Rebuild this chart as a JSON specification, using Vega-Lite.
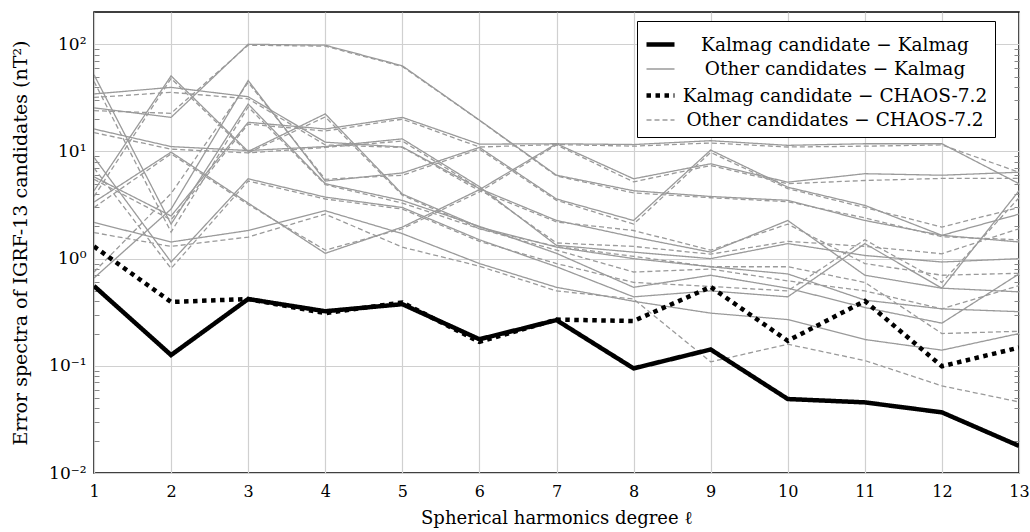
{
"$schema": "https://vega.github.io/schema/vega-lite/v6.json",
"width": 925, "height": 461,
"autosize": {"type": "none"},
"padding": {"left": 94, "top": 12, "right": 11, "bottom": 59},
"background": "white",
"config": {
  "font": "DejaVu Serif",
  "view": {"stroke": "black", "strokeWidth": 1.5},
  "axis": {"gridColor": "#d0d0d0", "gridWidth": 1.2, "domain": false, "labelFont": "DejaVu Serif", "labelFontSize": 16, "labelColor": "black", "titleFont": "DejaVu Serif", "titleFontSize": 18, "titleFontWeight": "normal", "titleColor": "black", "tickColor": "#888"},
  "legend": {"labelFont": "DejaVu Serif", "labelFontSize": 18.5, "labelColor": "black"}
},
"data": {"values": [
{"s":"KK","c":"K","l":1,"v":0.556},{"s":"KK","c":"K","l":2,"v":0.126},{"s":"KK","c":"K","l":3,"v":0.42},{"s":"KK","c":"K","l":4,"v":0.323},{"s":"KK","c":"K","l":5,"v":0.376},{"s":"KK","c":"K","l":6,"v":0.177},{"s":"KK","c":"K","l":7,"v":0.267},{"s":"KK","c":"K","l":8,"v":0.0946},{"s":"KK","c":"K","l":9,"v":0.142},{"s":"KK","c":"K","l":10,"v":0.049},{"s":"KK","c":"K","l":11,"v":0.0456},{"s":"KK","c":"K","l":12,"v":0.0368},{"s":"KK","c":"K","l":13,"v":0.0179},
{"s":"KC","c":"K","l":1,"v":1.3},{"s":"KC","c":"K","l":2,"v":0.394},{"s":"KC","c":"K","l":3,"v":0.42},{"s":"KC","c":"K","l":4,"v":0.31},{"s":"KC","c":"K","l":5,"v":0.39},{"s":"KC","c":"K","l":6,"v":0.167},{"s":"KC","c":"K","l":7,"v":0.27},{"s":"KC","c":"K","l":8,"v":0.262},{"s":"KC","c":"K","l":9,"v":0.544},{"s":"KC","c":"K","l":10,"v":0.171},{"s":"KC","c":"K","l":11,"v":0.403},{"s":"KC","c":"K","l":12,"v":0.099},{"s":"KC","c":"K","l":13,"v":0.148},
{"s":"OK","c":"A","l":1,"v":25.5},{"s":"OK","c":"A","l":2,"v":20.8},{"s":"OK","c":"A","l":3,"v":100},{"s":"OK","c":"A","l":4,"v":98},{"s":"OK","c":"A","l":5,"v":63},{"s":"OK","c":"A","l":6,"v":19.6},{"s":"OK","c":"A","l":7,"v":6.0},{"s":"OK","c":"A","l":8,"v":4.3},{"s":"OK","c":"A","l":9,"v":3.8},{"s":"OK","c":"A","l":10,"v":3.5},{"s":"OK","c":"A","l":11,"v":2.27},{"s":"OK","c":"A","l":12,"v":1.65},{"s":"OK","c":"A","l":13,"v":1.43},
{"s":"OK","c":"B","l":1,"v":5.8},{"s":"OK","c":"B","l":2,"v":2.5},{"s":"OK","c":"B","l":3,"v":18.7},{"s":"OK","c":"B","l":4,"v":16.2},{"s":"OK","c":"B","l":5,"v":20.8},{"s":"OK","c":"B","l":6,"v":11.7},{"s":"OK","c":"B","l":7,"v":11.8},{"s":"OK","c":"B","l":8,"v":11.6},{"s":"OK","c":"B","l":9,"v":12.6},{"s":"OK","c":"B","l":10,"v":11.4},{"s":"OK","c":"B","l":11,"v":11.8},{"s":"OK","c":"B","l":12,"v":11.8},{"s":"OK","c":"B","l":13,"v":5.0},
{"s":"OK","c":"C1","l":1,"v":52},{"s":"OK","c":"C1","l":2,"v":2.1},{"s":"OK","c":"C1","l":3,"v":27.7},{"s":"OK","c":"C1","l":4,"v":5.0},{"s":"OK","c":"C1","l":5,"v":3.49},{"s":"OK","c":"C1","l":6,"v":2.0},{"s":"OK","c":"C1","l":7,"v":1.12},{"s":"OK","c":"C1","l":8,"v":0.54},{"s":"OK","c":"C1","l":9,"v":0.7},{"s":"OK","c":"C1","l":10,"v":0.53},{"s":"OK","c":"C1","l":11,"v":0.35},{"s":"OK","c":"C1","l":12,"v":0.25},{"s":"OK","c":"C1","l":13,"v":0.72},
{"s":"OK","c":"C2","l":1,"v":34.4},{"s":"OK","c":"C2","l":2,"v":39.6},{"s":"OK","c":"C2","l":3,"v":32.4},{"s":"OK","c":"C2","l":4,"v":12.2},{"s":"OK","c":"C2","l":5,"v":11.0},{"s":"OK","c":"C2","l":6,"v":4.5},{"s":"OK","c":"C2","l":7,"v":2.27},{"s":"OK","c":"C2","l":8,"v":1.59},{"s":"OK","c":"C2","l":9,"v":1.15},{"s":"OK","c":"C2","l":10,"v":2.27},{"s":"OK","c":"C2","l":11,"v":0.7},{"s":"OK","c":"C2","l":12,"v":0.53},{"s":"OK","c":"C2","l":13,"v":0.49},
{"s":"OK","c":"C4","l":1,"v":16.2},{"s":"OK","c":"C4","l":2,"v":11.1},{"s":"OK","c":"C4","l":3,"v":10.2},{"s":"OK","c":"C4","l":4,"v":11.1},{"s":"OK","c":"C4","l":5,"v":13.1},{"s":"OK","c":"C4","l":6,"v":4.7},{"s":"OK","c":"C4","l":7,"v":1.33},{"s":"OK","c":"C4","l":8,"v":1.15},{"s":"OK","c":"C4","l":9,"v":1.0},{"s":"OK","c":"C4","l":10,"v":1.38},{"s":"OK","c":"C4","l":11,"v":1.07},{"s":"OK","c":"C4","l":12,"v":0.93},{"s":"OK","c":"C4","l":13,"v":1.0},
{"s":"OK","c":"C5","l":1,"v":8.8},{"s":"OK","c":"C5","l":2,"v":0.93},{"s":"OK","c":"C5","l":3,"v":5.56},{"s":"OK","c":"C5","l":4,"v":3.75},{"s":"OK","c":"C5","l":5,"v":3.0},{"s":"OK","c":"C5","l":6,"v":1.5},{"s":"OK","c":"C5","l":7,"v":0.84},{"s":"OK","c":"C5","l":8,"v":0.44},{"s":"OK","c":"C5","l":9,"v":0.5},{"s":"OK","c":"C5","l":10,"v":0.44},{"s":"OK","c":"C5","l":11,"v":1.38},{"s":"OK","c":"C5","l":12,"v":0.53},{"s":"OK","c":"C5","l":13,"v":4.3},
{"s":"OK","c":"C6","l":1,"v":3.37},{"s":"OK","c":"C6","l":2,"v":9.85},{"s":"OK","c":"C6","l":3,"v":3.3},{"s":"OK","c":"C6","l":4,"v":1.12},{"s":"OK","c":"C6","l":5,"v":1.97},{"s":"OK","c":"C6","l":6,"v":4.4},{"s":"OK","c":"C6","l":7,"v":11.8},{"s":"OK","c":"C6","l":8,"v":5.56},{"s":"OK","c":"C6","l":9,"v":7.67},{"s":"OK","c":"C6","l":10,"v":5.17},{"s":"OK","c":"C6","l":11,"v":6.2},{"s":"OK","c":"C6","l":12,"v":6.0},{"s":"OK","c":"C6","l":13,"v":6.4},
{"s":"OK","c":"C7","l":1,"v":2.18},{"s":"OK","c":"C7","l":2,"v":1.43},{"s":"OK","c":"C7","l":3,"v":1.83},{"s":"OK","c":"C7","l":4,"v":2.8},{"s":"OK","c":"C7","l":5,"v":1.71},{"s":"OK","c":"C7","l":6,"v":0.9},{"s":"OK","c":"C7","l":7,"v":0.54},{"s":"OK","c":"C7","l":8,"v":0.4},{"s":"OK","c":"C7","l":9,"v":0.31},{"s":"OK","c":"C7","l":10,"v":0.27},{"s":"OK","c":"C7","l":11,"v":0.176},{"s":"OK","c":"C7","l":12,"v":0.14},{"s":"OK","c":"C7","l":13,"v":0.2},
{"s":"OK","c":"C8","l":1,"v":0.66},{"s":"OK","c":"C8","l":2,"v":2.9},{"s":"OK","c":"C8","l":3,"v":45.9},{"s":"OK","c":"C8","l":4,"v":5.3},{"s":"OK","c":"C8","l":5,"v":6.3},{"s":"OK","c":"C8","l":6,"v":10.9},{"s":"OK","c":"C8","l":7,"v":3.6},{"s":"OK","c":"C8","l":8,"v":2.27},{"s":"OK","c":"C8","l":9,"v":10.3},{"s":"OK","c":"C8","l":10,"v":4.64},{"s":"OK","c":"C8","l":11,"v":3.14},{"s":"OK","c":"C8","l":12,"v":1.65},{"s":"OK","c":"C8","l":13,"v":2.6},
{"s":"OK","c":"C9","l":1,"v":4.3},{"s":"OK","c":"C9","l":2,"v":50.7},{"s":"OK","c":"C9","l":3,"v":10.0},{"s":"OK","c":"C9","l":4,"v":22.4},{"s":"OK","c":"C9","l":5,"v":4.0},{"s":"OK","c":"C9","l":6,"v":1.97},{"s":"OK","c":"C9","l":7,"v":1.28},{"s":"OK","c":"C9","l":8,"v":1.0},{"s":"OK","c":"C9","l":9,"v":0.84},{"s":"OK","c":"C9","l":10,"v":0.72},{"s":"OK","c":"C9","l":11,"v":0.41},{"s":"OK","c":"C9","l":12,"v":0.34},{"s":"OK","c":"C9","l":13,"v":0.32},
{"s":"OC","c":"A","l":1,"v":24},{"s":"OC","c":"A","l":2,"v":22.7},{"s":"OC","c":"A","l":3,"v":98},{"s":"OC","c":"A","l":4,"v":96},{"s":"OC","c":"A","l":5,"v":62},{"s":"OC","c":"A","l":6,"v":19.5},{"s":"OC","c":"A","l":7,"v":5.9},{"s":"OC","c":"A","l":8,"v":4.1},{"s":"OC","c":"A","l":9,"v":3.7},{"s":"OC","c":"A","l":10,"v":3.4},{"s":"OC","c":"A","l":11,"v":2.4},{"s":"OC","c":"A","l":12,"v":1.6},{"s":"OC","c":"A","l":13,"v":1.5},
{"s":"OC","c":"B","l":1,"v":5.5},{"s":"OC","c":"B","l":2,"v":2.3},{"s":"OC","c":"B","l":3,"v":18},{"s":"OC","c":"B","l":4,"v":15.5},{"s":"OC","c":"B","l":5,"v":20},{"s":"OC","c":"B","l":6,"v":11},{"s":"OC","c":"B","l":7,"v":11.6},{"s":"OC","c":"B","l":8,"v":11.2},{"s":"OC","c":"B","l":9,"v":12.0},{"s":"OC","c":"B","l":10,"v":11.0},{"s":"OC","c":"B","l":11,"v":11.2},{"s":"OC","c":"B","l":12,"v":11.5},{"s":"OC","c":"B","l":13,"v":6.4},
{"s":"OC","c":"C1","l":1,"v":45},{"s":"OC","c":"C1","l":2,"v":1.77},{"s":"OC","c":"C1","l":3,"v":26},{"s":"OC","c":"C1","l":4,"v":4.9},{"s":"OC","c":"C1","l":5,"v":3.3},{"s":"OC","c":"C1","l":6,"v":1.9},{"s":"OC","c":"C1","l":7,"v":1.2},{"s":"OC","c":"C1","l":8,"v":0.75},{"s":"OC","c":"C1","l":9,"v":0.8},{"s":"OC","c":"C1","l":10,"v":0.62},{"s":"OC","c":"C1","l":11,"v":0.5},{"s":"OC","c":"C1","l":12,"v":0.34},{"s":"OC","c":"C1","l":13,"v":0.56},
{"s":"OC","c":"C2","l":1,"v":31.9},{"s":"OC","c":"C2","l":2,"v":35.6},{"s":"OC","c":"C2","l":3,"v":31},{"s":"OC","c":"C2","l":4,"v":11.5},{"s":"OC","c":"C2","l":5,"v":10.9},{"s":"OC","c":"C2","l":6,"v":4.3},{"s":"OC","c":"C2","l":7,"v":2.2},{"s":"OC","c":"C2","l":8,"v":1.83},{"s":"OC","c":"C2","l":9,"v":1.2},{"s":"OC","c":"C2","l":10,"v":2.1},{"s":"OC","c":"C2","l":11,"v":0.9},{"s":"OC","c":"C2","l":12,"v":0.7},{"s":"OC","c":"C2","l":13,"v":0.73},
{"s":"OC","c":"C4","l":1,"v":15},{"s":"OC","c":"C4","l":2,"v":10.5},{"s":"OC","c":"C4","l":3,"v":9.7},{"s":"OC","c":"C4","l":4,"v":10.9},{"s":"OC","c":"C4","l":5,"v":12.5},{"s":"OC","c":"C4","l":6,"v":4.5},{"s":"OC","c":"C4","l":7,"v":1.4},{"s":"OC","c":"C4","l":8,"v":1.3},{"s":"OC","c":"C4","l":9,"v":1.1},{"s":"OC","c":"C4","l":10,"v":1.45},{"s":"OC","c":"C4","l":11,"v":1.3},{"s":"OC","c":"C4","l":12,"v":1.11},{"s":"OC","c":"C4","l":13,"v":1.9},
{"s":"OC","c":"C5","l":1,"v":7.0},{"s":"OC","c":"C5","l":2,"v":0.81},{"s":"OC","c":"C5","l":3,"v":5.3},{"s":"OC","c":"C5","l":4,"v":3.6},{"s":"OC","c":"C5","l":5,"v":2.9},{"s":"OC","c":"C5","l":6,"v":1.45},{"s":"OC","c":"C5","l":7,"v":0.9},{"s":"OC","c":"C5","l":8,"v":0.6},{"s":"OC","c":"C5","l":9,"v":0.55},{"s":"OC","c":"C5","l":10,"v":0.5},{"s":"OC","c":"C5","l":11,"v":1.5},{"s":"OC","c":"C5","l":12,"v":0.6},{"s":"OC","c":"C5","l":13,"v":3.7},
{"s":"OC","c":"C6","l":1,"v":3.0},{"s":"OC","c":"C6","l":2,"v":9.5},{"s":"OC","c":"C6","l":3,"v":3.2},{"s":"OC","c":"C6","l":4,"v":1.2},{"s":"OC","c":"C6","l":5,"v":1.9},{"s":"OC","c":"C6","l":6,"v":4.2},{"s":"OC","c":"C6","l":7,"v":11.5},{"s":"OC","c":"C6","l":8,"v":5.2},{"s":"OC","c":"C6","l":9,"v":7.4},{"s":"OC","c":"C6","l":10,"v":5.0},{"s":"OC","c":"C6","l":11,"v":5.36},{"s":"OC","c":"C6","l":12,"v":5.6},{"s":"OC","c":"C6","l":13,"v":5.6},
{"s":"OC","c":"C7","l":1,"v":1.75},{"s":"OC","c":"C7","l":2,"v":1.3},{"s":"OC","c":"C7","l":3,"v":1.59},{"s":"OC","c":"C7","l":4,"v":2.6},{"s":"OC","c":"C7","l":5,"v":1.28},{"s":"OC","c":"C7","l":6,"v":0.85},{"s":"OC","c":"C7","l":7,"v":0.5},{"s":"OC","c":"C7","l":8,"v":0.42},{"s":"OC","c":"C7","l":9,"v":0.109},{"s":"OC","c":"C7","l":10,"v":0.159},{"s":"OC","c":"C7","l":11,"v":0.112},{"s":"OC","c":"C7","l":12,"v":0.065},{"s":"OC","c":"C7","l":13,"v":0.046},
{"s":"OC","c":"C8","l":1,"v":0.75},{"s":"OC","c":"C8","l":2,"v":4.05},{"s":"OC","c":"C8","l":3,"v":44},{"s":"OC","c":"C8","l":4,"v":5.5},{"s":"OC","c":"C8","l":5,"v":6.0},{"s":"OC","c":"C8","l":6,"v":10.5},{"s":"OC","c":"C8","l":7,"v":3.5},{"s":"OC","c":"C8","l":8,"v":2.1},{"s":"OC","c":"C8","l":9,"v":9.8},{"s":"OC","c":"C8","l":10,"v":4.5},{"s":"OC","c":"C8","l":11,"v":3.0},{"s":"OC","c":"C8","l":12,"v":1.97},{"s":"OC","c":"C8","l":13,"v":3.0},
{"s":"OC","c":"C9","l":1,"v":3.8},{"s":"OC","c":"C9","l":2,"v":48},{"s":"OC","c":"C9","l":3,"v":9.7},{"s":"OC","c":"C9","l":4,"v":21},{"s":"OC","c":"C9","l":5,"v":3.9},{"s":"OC","c":"C9","l":6,"v":1.9},{"s":"OC","c":"C9","l":7,"v":1.3},{"s":"OC","c":"C9","l":8,"v":1.05},{"s":"OC","c":"C9","l":9,"v":0.84},{"s":"OC","c":"C9","l":10,"v":0.84},{"s":"OC","c":"C9","l":11,"v":0.6},{"s":"OC","c":"C9","l":12,"v":0.2},{"s":"OC","c":"C9","l":13,"v":0.21}
]},
"encoding": {
  "x": {"field": "l", "type": "quantitative", "scale": {"domain": [1, 13], "nice": false, "zero": false},
        "axis": {"values": [1,2,3,4,5,6,7,8,9,10,11,12,13], "title": "Spherical harmonics degree ℓ", "tickSize": 0, "labelPadding": 10, "titlePadding": 10, "labelFlush": false}},
  "color": {"field": "s", "type": "nominal", "scale": {"domain": ["KK","OK","KC","OC"], "range": ["#000000","#9a9a9a","#000000","#9a9a9a"]},
            "legend": {"title": null, "orient": "none", "legendX": 543, "legendY": 9, "fillColor": "white", "strokeColor": "black", "padding": 7, "symbolType": "stroke", "symbolSize": 784, "labelAlign": "center", "labelOffset": 158, "labelLimit": 500, "rowPadding": -2.5,
                       "labelExpr": "datum.value=='KK'?'Kalmag candidate − Kalmag':datum.value=='OK'?'Other candidates − Kalmag':datum.value=='KC'?'Kalmag candidate − CHAOS-7.2':'Other candidates − CHAOS-7.2'"}},
  "strokeDash": {"field": "s", "type": "nominal", "scale": {"domain": ["KK","OK","KC","OC"], "range": [[1,0],[1,0],[4.5,4.5],[5,3]]},
            "legend": {"title": null, "orient": "none", "legendX": 543, "legendY": 9, "fillColor": "white", "strokeColor": "black", "padding": 7, "symbolType": "stroke", "symbolSize": 784, "labelAlign": "center", "labelOffset": 158, "labelLimit": 500, "rowPadding": -2.5,
                       "labelExpr": "datum.value=='KK'?'Kalmag candidate − Kalmag':datum.value=='OK'?'Other candidates − Kalmag':datum.value=='KC'?'Kalmag candidate − CHAOS-7.2':'Other candidates − CHAOS-7.2'"}},
  "strokeWidth": {"field": "s", "type": "nominal", "scale": {"type": "ordinal", "domain": ["KK","OK","KC","OC"], "range": [4.5,1.3,4.5,1.3]},
            "legend": {"title": null, "orient": "none", "legendX": 543, "legendY": 9, "fillColor": "white", "strokeColor": "black", "padding": 7, "symbolType": "stroke", "symbolSize": 784, "labelAlign": "center", "labelOffset": 158, "labelLimit": 500, "rowPadding": -2.5,
                       "labelExpr": "datum.value=='KK'?'Kalmag candidate − Kalmag':datum.value=='OK'?'Other candidates − Kalmag':datum.value=='KC'?'Kalmag candidate − CHAOS-7.2':'Other candidates − CHAOS-7.2'"}},
  "detail": {"field": "c", "type": "nominal"}
},
"layer": [
  {"transform": [{"filter": "datum.s=='OK' || datum.s=='OC'"}],
   "mark": {"type": "line", "clip": true},
   "encoding": {
     "y": {"field": "v", "type": "quantitative", "scale": {"type": "log", "domain": [0.01, 200], "nice": false},
           "axis": {"orient": "left", "title": "Error spectra of IGRF-13 candidates (nT²)", "titleFontSize": 19, "titlePadding": 18, "labelPadding": 8, "labelFontSize": 17,
                    "values": [0.01,0.02,0.03,0.04,0.05,0.06,0.07,0.08,0.09,0.1,0.2,0.3,0.4,0.5,0.6,0.7,0.8,0.9,1,2,3,4,5,6,7,8,9,10,20,30,40,50,60,70,80,90,100],
                    "labelExpr": "datum.value==100?'10²':datum.value==10?'10¹':datum.value==1?'10⁰':datum.value==0.1?'10⁻¹':datum.value==0.01?'10⁻²':''",
                    "gridOpacity": {"condition": {"test": "indexof([0.01,0.1,1,10,100], datum.value) >= 0", "value": 1}, "value": 0},
                    "tickSize": {"condition": {"test": "indexof([0.01,0.1,1,10,100], datum.value) >= 0", "value": 0}, "value": -5}}}
   }},
  {"transform": [{"filter": "datum.s=='KC'"}],
   "mark": {"type": "line", "clip": true},
   "encoding": {
     "y": {"field": "v", "type": "quantitative",
           "axis": {"orient": "right", "title": null, "labels": false, "grid": false, "tickSize": -5,
                    "values": [0.02,0.03,0.04,0.05,0.06,0.07,0.08,0.09,0.2,0.3,0.4,0.5,0.6,0.7,0.8,0.9,2,3,4,5,6,7,8,9,20,30,40,50,60,70,80,90]}}
   }},
  {"transform": [{"filter": "datum.s=='KK'"}],
   "mark": {"type": "line", "clip": true},
   "encoding": {
     "y": {"field": "v", "type": "quantitative", "axis": null}
   }}
],
"resolve": {"axis": {"y": "independent"}}
}
